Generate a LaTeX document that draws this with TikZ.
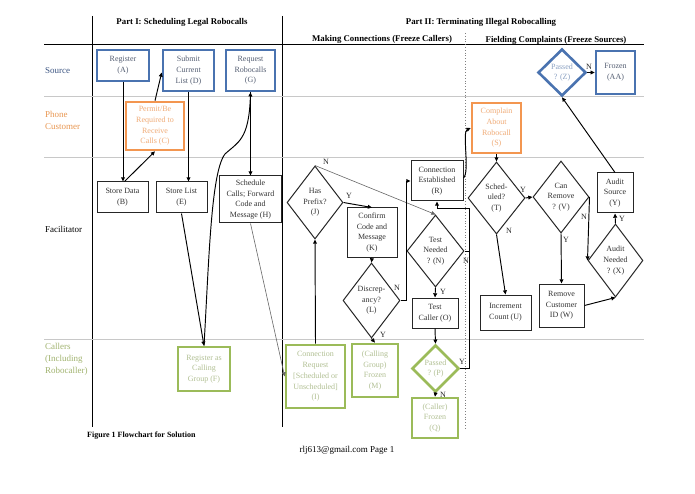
\documentclass[tikz,border=0pt]{standalone}
\usepackage{fontspec}
\setmainfont{Liberation Serif}
\usetikzlibrary{shapes.geometric,arrows.meta}
\definecolor{blueB}{RGB}{74,115,176}
\definecolor{blueT}{RGB}{85,95,115}
\definecolor{blueL}{RGB}{60,85,130}
\definecolor{blueZ}{RGB}{140,162,195}
\definecolor{orangeB}{RGB}{243,150,80}
\definecolor{orangeT}{RGB}{240,172,120}
\definecolor{orangeL}{RGB}{232,150,80}
\definecolor{greenB}{RGB}{155,187,89}
\definecolor{greenT}{RGB}{178,192,148}
\definecolor{greenL}{RGB}{160,178,110}
\definecolor{laneline}{RGB}{200,200,200}
\tikzset{
  txt/.style={font=\fontsize{8}{10.7}\selectfont, align=center, inner sep=0pt},
  box/.style={txt, draw=black!85, fill=white, line width=1pt, text=black!80},
  bbox/.style={box, draw=blueB, line width=2.6pt, text=blueT},
  obox/.style={box, draw=orangeB, line width=2.6pt, text=orangeT},
  gbox/.style={box, draw=greenB, line width=2.6pt, text=greenT},
  dia/.style={diamond, draw=black!85, fill=white, line width=1pt, inner sep=0pt},
  dtext/.style={txt, text=black!80},
  hdr/.style={font=\bfseries\fontsize{8.8}{10}\selectfont, inner sep=0pt},
  lane/.style={font=\fontsize{9}{12}\selectfont, align=left, inner sep=0pt, anchor=west},
  arr/.style={-{Triangle[length=4.2pt,width=3.8pt]}, line width=0.95pt, black},
  conn/.style={line width=0.95pt, black},
  thinl/.style={-{Triangle[length=4.2pt,width=3.8pt]}, line width=0.6pt, black!60},
  yn/.style={font=\fontsize{8}{9}\selectfont, inner sep=0pt, text=black!85}
}
\begin{document}
\begin{tikzpicture}[x=1pt,y=-1pt]
\useasboundingbox (0,0) rectangle (695,494);
% frame
\draw[line width=1pt] (92,16) -- (92,427);
\draw[line width=1pt] (282,16) -- (282,427);
\draw[line width=1pt] (44,45) -- (644,45);
\draw[laneline, line width=1pt] (44,97) -- (644,97);
\draw[laneline, line width=1pt] (44,158) -- (644,158);
\draw[laneline, line width=1pt] (44,339) -- (644,339);
\draw[dotted, line width=0.8pt, black!50] (465,33) -- (465,428);
% headers
\node[hdr] (p1) at (182,22) {Part I: Scheduling Legal Robocalls};
\node[hdr] (p2) at (481,22) {Part II: Terminating Illegal Robocalling};
\node[hdr] (mc) at (382,39) {Making Connections (Freeze Callers)};
\node[hdr] (fc) at (556,40) {Fielding Complaints (Freeze Sources)};
% lane labels
\node[lane, text=blueL] (ls) at (45,71) {Source};
\node[lane, text=orangeL] (lp) at (45,120) {Phone\\Customer};
\node[lane, text=black] (lf) at (45,229) {Facilitator};
\node[lane, text=greenL] (lc) at (45,359) {Callers\\(Including\\Robocaller)};
% footer
\node[font=\bfseries\fontsize{8}{9}\selectfont, anchor=west, inner sep=0pt] (fig) at (87,436) {Figure 1 Flowchart for Solution};
\node[font=\fontsize{9}{10}\selectfont, inner sep=0pt] (pg) at (347,450) {rlj613@gmail.com Page 1};
% source lane
\node[bbox, minimum width=52, minimum height=31] (A) at (123,65.5) {Register\\(A)};
\node[bbox, minimum width=51, minimum height=41] (D) at (188.5,70.5) {Submit\\Current\\List (D)};
\node[bbox, minimum width=49, minimum height=41] (G) at (250.5,70.5) {Request\\Robocalls\\(G)};
\node[dia, draw=blueB, line width=2.6pt, minimum width=48, minimum height=47] (Z) at (562,72.5) {};
\node[dtext, text=blueZ] (Zt) at (Z) {Passed\\? (Z)};
\node[bbox, minimum width=39, minimum height=43] (AA) at (615.5,72.5) {Frozen\\(AA)};
% phone customer lane
\node[obox, minimum width=58, minimum height=48] (C) at (155,126) {Permit/Be\\Required to\\Receive\\Calls (C)};
\node[obox, minimum width=49, minimum height=50] (S) at (496.5,128) {Complain\\About\\Robocall\\(S)};
% facilitator lane
\node[box, minimum width=51, minimum height=31] (B) at (122.5,197.5) {Store Data\\(B)};
\node[box, minimum width=51, minimum height=31] (E) at (181.5,197.5) {Store List\\(E)};
\node[box, minimum width=62, minimum height=47] (H) at (250.5,199.5) {Schedule\\Calls; Forward\\Code and\\Message (H)};
\node[dia, minimum width=56, minimum height=73] (J) at (315,202.5) {};
\node[dtext] (Jt) at (J) {Has\\Prefix?\\(J)};
\node[box, minimum width=50, minimum height=49] (K) at (372,232.5) {Confirm\\Code and\\Message\\(K)};
\node[dia, minimum width=57, minimum height=75] (L) at (371.5,300.5) {};
\node[dtext] (Lt) at (L) {Discrep-\\ancy?\\(L)};
\node[box, minimum width=52, minimum height=40] (R) at (437,181) {Connection\\Established\\(R)};
\node[dia, minimum width=57, minimum height=72] (N) at (435.5,251) {};
\node[dtext] (Nt) at (N) {Test\\Needed\\? (N)};
\node[box, minimum width=46, minimum height=30] (O) at (435,313) {Test\\Caller (O)};
\node[dia, minimum width=57, minimum height=72] (T) at (496.5,198) {};
\node[dtext] (Tt) at (T) {Sched-\\uled?\\(T)};
\node[dia, minimum width=56, minimum height=72] (V) at (561,197) {};
\node[dtext] (Vt) at (V) {Can\\Remove\\? (V)};
\node[box, minimum width=36, minimum height=40] (Y) at (615,193) {Audit\\Source\\(Y)};
\node[dia, minimum width=55, minimum height=73] (X) at (615.5,260.5) {};
\node[dtext] (Xt) at (X) {Audit\\Needed\\? (X)};
\node[box, minimum width=51, minimum height=35] (U) at (505.5,312.5) {Increment\\Count (U)};
\node[box, minimum width=45, minimum height=43] (W) at (561.5,305.5) {Remove\\Customer\\ID (W)};
% callers lane
\node[gbox, minimum width=52, minimum height=44] (F) at (204,369) {Register as\\Calling\\Group (F)};
\node[gbox, minimum width=59, minimum height=63] (I) at (315.5,376.5) {Connection\\Request\\{}[Scheduled or\\Unscheduled]\\(I)};
\node[gbox, minimum width=46, minimum height=53] (M) at (375,370.5) {(Calling\\Group)\\Frozen\\(M)};
\node[dia, draw=greenB, line width=2.6pt, minimum width=47, minimum height=47] (P) at (435.5,368.5) {};
\node[dtext, text=greenT] (Pt) at (P) {Passed\\? (P)};
\node[gbox, minimum width=46, minimum height=40] (Q) at (435,418) {(Caller)\\Frozen\\(Q)};
% connectors part I
\draw[arr] (A.south) -- (A.south |- B.north);
\draw[arr] ([xshift=2pt]B.north) -- (C.south);
\draw[arr] (C.north) -- ([yshift=-2pt]D.west);
\draw[arr] (D.south) -- (D.south |- E.north);
\draw[arr] (E.south) -- (F.north);
\draw[arr] (F.north) .. controls (209,260) and (211,172) .. (225,154) .. controls (238,142) and (249,140) .. (G.south);
\draw[arr] (G.south) -- (H.north);
\draw[thinl] (H.south) -- (I.west);
% making connections
\draw[arr] (I.north) -- (J.south);
\draw[thinl] (J.north) -- (N.north);
\node[yn] (jn) at (326,162) {N};
\draw[arr] (J.east) -- (K.north);
\node[yn] (jy) at (349,196) {Y};
\draw[arr] (K.south) -- (L.north);
\draw[arr] (L.east) -- ++(6,0) |- (R.west);
\node[yn] (ln) at (397,288) {N};
\draw[arr] (L.south) -- (M.north);
\node[yn] (ly) at (383,335) {Y};
\draw[arr] (N.south) -- (O.north);
\node[yn] (ny) at (443,292) {Y};
\coordinate (rj) at (469,208);
\draw[arr] (N.east) -| (rj) -| (R.south);
\node[yn] (nn) at (466,261) {N};
\draw[conn] (P.east) -| (rj);
\node[yn] (py) at (462,362) {Y};
\draw[arr] (O.south) -- (P.north);
\draw[arr] (P.south) -- (Q.north);
\node[yn] (pn) at (443,395) {N};
% fielding complaints
\draw[arr] ([yshift=3pt]R.east) .. controls (470,172) and (462,132) .. (S.west);
\draw[arr] (S.south) -- (T.north);
\draw[arr] (T.east) -- (V.west);
\node[yn] (ty) at (523,190) {Y};
\draw[arr] (T.south) -- (U.north);
\node[yn] (tn) at (509,231) {N};
\draw[arr] (V.south) -- (W.north);
\node[yn] (vy) at (566,240) {Y};
\draw[arr] (V.east) -- (X.west);
\node[yn] (vn) at (584,217) {N};
\draw[arr] (W.east) -- (X.south);
\draw[arr] (X.north) -- (Y.south);
\node[yn] (xy) at (622,219) {Y};
\draw[arr] (Y.north) -- (Z.south);
\draw[arr] (Z.east) -- (AA.west);
\node[yn] (zn) at (589,67) {N};
\end{tikzpicture}
\end{document}
